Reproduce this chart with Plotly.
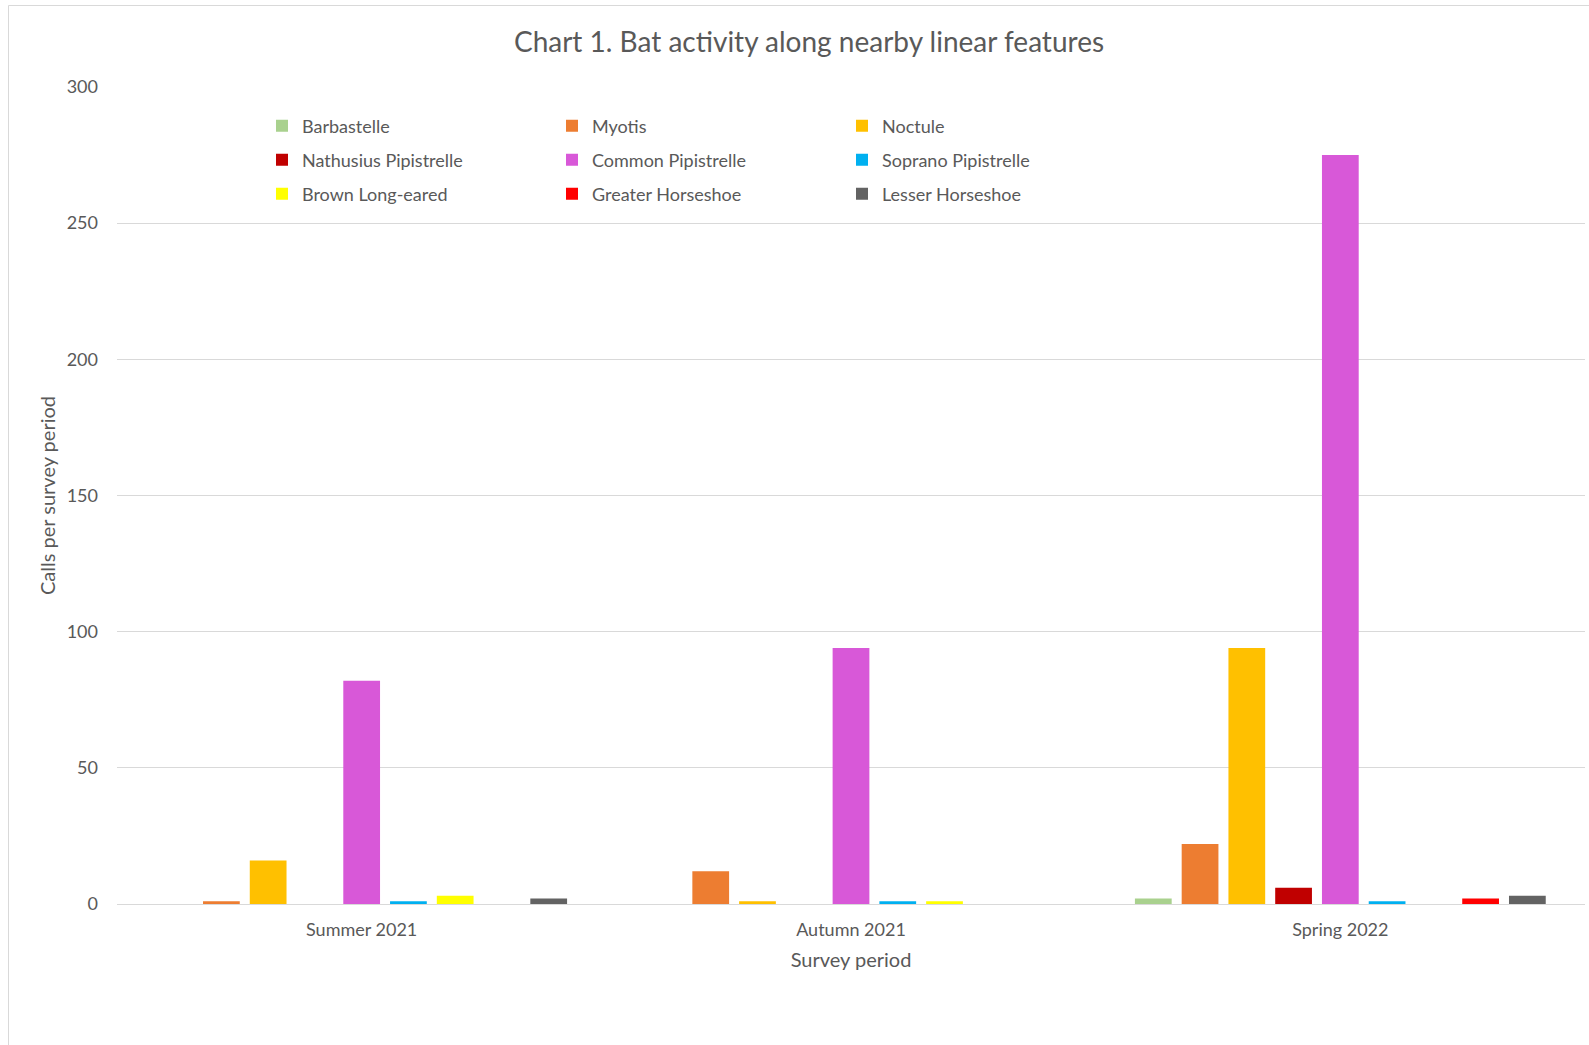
import plotly.graph_objects as go

periods = ["Summer 2021", "Autumn 2021", "Spring 2022"]
species = ["Barbastelle", "Myotis", "Noctule",
           "Nathusius Pipistrelle", "Common Pipistrelle", "Soprano Pipistrelle",
           "Brown Long-eared", "Greater Horseshoe", "Lesser Horseshoe"]
colors = ["#a9d18e", "#ed7d31", "#ffc000",
          "#c00000", "#d858d8", "#00b0f0",
          "#ffff00", "#ff0000", "#636363"]

barbastelle = [0, 0, 2]
myotis = [1, 12, 22]
noctule = [16, 1, 94]
nathusius = [0, 0, 6]
common_pip = [82, 94, 275]
soprano_pip = [1, 1, 1]
brown_le = [3, 1, 0]
greater_hs = [0, 0, 2]
lesser_hs = [2, 0, 3]

values = [barbastelle, myotis, noctule, nathusius, common_pip, soprano_pip,
          brown_le, greater_hs, lesser_hs]

W, H = 1589, 1045
ML, MR, MT, MB = 117, 4, 87, 141
pw = W - ML - MR
ph = H - MT - MB

font = "Lato, Open Sans, sans-serif"
grey = "#595959"

fig = go.Figure()
legend_names = ["legend", "legend2", "legend3"]
for i, (name, vals, col) in enumerate(zip(species, values, colors)):
    fig.add_trace(go.Bar(
        x=periods, y=vals, name=name, marker=dict(color=col, line=dict(width=0)),
        legend=legend_names[i // 3],
    ))

row_y = [126, 160, 194]
leg_common = dict(orientation="h", entrywidth=245, entrywidthmode="pixels",
                  xanchor="left", yanchor="middle", x=(262 - ML) / pw,
                  font=dict(family=font, size=18, color=grey),
                  bgcolor="rgba(0,0,0,0)", itemwidth=30, tracegroupgap=0)
legends = {}
for k, ln in enumerate(legend_names):
    d = dict(leg_common)
    d["y"] = 1 - (row_y[k] - MT) / ph
    legends[ln] = d

fig.update_layout(
    width=W, height=H,
    margin=dict(l=ML, r=MR, t=MT, b=MB),
    paper_bgcolor="white", plot_bgcolor="white",
    barmode="group", bargap=0.14, bargroupgap=0.214,
    title=dict(text="Chart 1. Bat activity along nearby linear features",
               x=809 / W, xanchor="center", y=1 - 42 / H, yanchor="middle",
               font=dict(family=font, size=28, color=grey)),
    font=dict(family=font, color=grey),
    showlegend=True,
    **legends,
)
fig.update_xaxes(
    showgrid=False, showline=True, linecolor="#d9d9d9", linewidth=1,
    ticks="", ticklabelstandoff=9, tickfont=dict(family=font, size=18, color=grey),
    title=dict(text="Survey period", font=dict(family=font, size=20, color=grey), standoff=14),
)
fig.update_yaxes(
    range=[0, 300], dtick=50, showgrid=True, gridcolor="#d9d9d9", gridwidth=1,
    zeroline=False, showline=False, ticks="", ticklabelstandoff=18,
    tickfont=dict(family=font, size=18, color=grey),
    title=dict(text="Calls per survey period", font=dict(family=font, size=20, color=grey), standoff=5),
)
fig.add_shape(type="rect", xref="paper", yref="paper",
              x0=(8.5 - ML) / pw, x1=(W + 5 - ML) / pw,
              y0=-(H + 5 - MT - ph) / ph, y1=1 + (MT - 5.5) / ph,
              line=dict(color="#d9d9d9", width=1), fillcolor="rgba(0,0,0,0)", layer="below")

fig.write_html("out.html")
